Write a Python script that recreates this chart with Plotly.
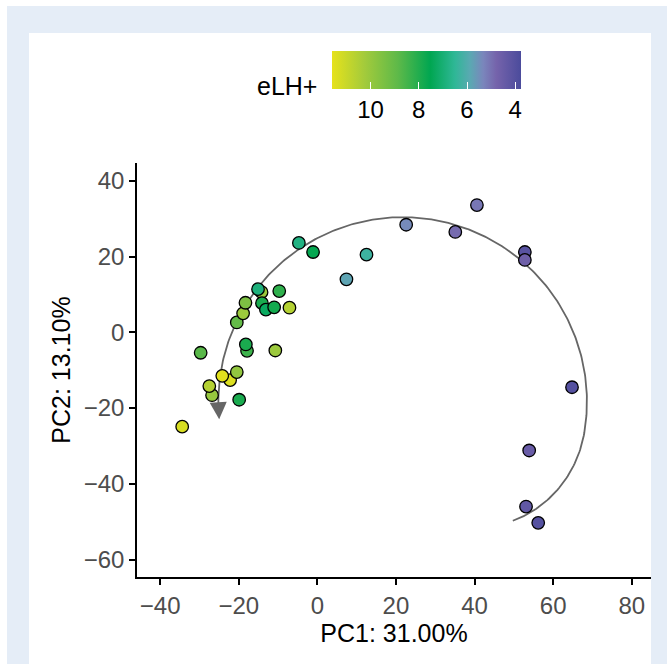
import numpy as np
import plotly.graph_objects as go

# ---- data ----
pc1 = [-34.4, -29.7, -26.8, -27.5, -22.2, -24.2, -20.5, -19.9, -20.5, -18.9,
       -18.3, -17.9, -18.2, -14.2, -15.1, -14.1, -13.1, -11.0, -9.7, -10.7,
       -7.1, -4.7, -1.1, 7.4, 12.5, 22.6, 35.1, 40.6, 52.8, 52.8,
       64.8, 53.9, 53.1, 56.2]
pc2 = [-24.9, -5.4, -16.6, -14.2, -12.6, -11.5, -10.5, -17.8, 2.6, 5.0,
       7.8, -4.9, -3.2, 10.6, 11.4, 7.7, 6.0, 6.6, 10.9, -4.8,
       6.5, 23.6, 21.2, 14.0, 20.5, 28.4, 26.5, 33.6, 21.2, 19.1,
       -14.5, -31.2, -46.0, -50.3]
elh = [11.3, 8.8, 10.0, 10.6, 11.4, 11.5, 9.9, 7.9, 9.0, 10.1,
       9.5, 8.4, 7.9, 10.1, 6.9, 7.9, 7.3, 7.8, 8.2, 10.1,
       10.6, 6.8, 7.6, 5.8, 6.3, 5.4, 4.9, 5.1, 4.1, 4.6,
       4.0, 4.5, 4.3, 4.0]
cbar_ticks = [10, 8, 6, 4]
x_title = "PC1: 31.00%"
y_title = "PC2: 13.10%"
cbar_title = "eLH+"

# ---- figure geometry (pixels) ----
W, H = 667, 664
ML, MR, MT, MB = 137, 16, 163, 87
PW, PH = W - ML - MR, H - MT - MB


def px2paper_x(px):
    return (px - ML) / PW


def px2paper_y(py):
    return 1 - (py - MT) / PH


cmin_v, cmax_v = 3.76, 11.6
colorscale = [
    [0.00, "#e6e21b"],
    [0.17, "#a4cb3b"],
    [0.35, "#5db949"],
    [0.52, "#00a651"],
    [0.65, "#2fb796"],
    [0.73, "#5aa9b2"],
    [0.80, "#7a86bc"],
    [0.87, "#7563ab"],
    [1.00, "#4b4b9c"],
]

fig = go.Figure()

# trajectory arc (decoration): ellipse-like arc in data space
cx, cy, rx, ry = 21.7, -18.3, 46.9, 48.7
th = np.radians(np.linspace(-47.2, 181.0, 300))
thd = np.degrees(th)
f = np.where(thd < -10, 1 - 0.12 * np.clip((-10 - thd) / 37.2, 0, 1) ** 2, 1.0)
arc_x = cx + rx * f * np.cos(th)
arc_y = cy + ry * f * np.sin(th)
fig.add_trace(go.Scatter(x=arc_x, y=arc_y, mode="lines",
                         line=dict(color="#666666", width=1.8),
                         hoverinfo="skip", showlegend=False))
tip_t = np.radians(185.5)
fig.add_annotation(x=cx + rx * np.cos(tip_t), y=cy + ry * np.sin(tip_t),
                   ax=arc_x[-1], ay=arc_y[-1], axref="x", ayref="y",
                   xref="x", yref="y", text="", showarrow=True,
                   arrowhead=2, arrowsize=1.9, arrowwidth=1.8,
                   arrowcolor="#666666", standoff=0)

fig.add_trace(go.Scatter(
    x=pc1, y=pc2, mode="markers", showlegend=False,
    customdata=elh,
    hovertemplate="PC1 %{x}<br>PC2 %{y}<br>eLH+ %{customdata}<extra></extra>",
    marker=dict(
        size=12.5, color=[-v for v in elh], colorscale=colorscale,
        cmin=-cmax_v, cmax=-cmin_v,
        line=dict(color="black", width=1.3),
        colorbar=dict(
            orientation="h", lenmode="pixels", len=189, thickness=38,
            xref="container", x=332 / PW, xanchor="left",
            yref="container", y=1 - 51 / H, yanchor="top",
            tickvals=[-t for t in cbar_ticks],
            ticktext=[str(t) for t in cbar_ticks],
            ticks="inside", ticklen=7, tickcolor="white", tickwidth=1,
            outlinewidth=0, xpad=0, ypad=0,
            tickfont=dict(size=24, color="black"),
        ),
    ),
))

fig.add_annotation(xref="paper", yref="paper", x=px2paper_x(319),
                   y=px2paper_y(86), xanchor="right", yanchor="middle",
                   text=cbar_title, showarrow=False,
                   font=dict(size=25, color="black"))

# background frame
fig.add_shape(type="rect", xref="paper", yref="paper",
              x0=px2paper_x(7), x1=px2paper_x(W + 5),
              y0=px2paper_y(H + 5), y1=px2paper_y(6),
              fillcolor="#e5edf7", line=dict(width=0), layer="below")
fig.add_shape(type="rect", xref="paper", yref="paper",
              x0=px2paper_x(29), x1=px2paper_x(651),
              y0=px2paper_y(H + 5), y1=px2paper_y(33),
              fillcolor="white", line=dict(width=0), layer="below")

axis_common = dict(showgrid=False, zeroline=False, showline=True,
                   linecolor="black", linewidth=1.5, ticks="outside",
                   ticklen=6, tickwidth=1.5, tickcolor="black",
                   tickfont=dict(size=24, color="#4d4d4d"),
                   title_font=dict(size=25, color="black"))

fig.update_layout(
    width=W, height=H,
    margin=dict(l=ML, r=MR, t=MT, b=MB),
    paper_bgcolor="white", plot_bgcolor="rgba(0,0,0,0)",
    font=dict(family="Liberation Sans, Arial, sans-serif"),
    xaxis=dict(range=[-45.9, 84.9], tickvals=[-40, -20, 0, 20, 40, 60, 80],
               ticktext=["\u221240", "\u221220", "0", "20", "40", "60", "80"],
               title=dict(text=x_title, standoff=4), **axis_common),
    yaxis=dict(range=[-64.6, 44.7], tickvals=[-60, -40, -20, 0, 20, 40],
               ticktext=["\u221260", "\u221240", "\u221220", "0", "20", "40"],
               title=dict(text=y_title, standoff=6), **axis_common),
)

fig.write_html("out.html")
